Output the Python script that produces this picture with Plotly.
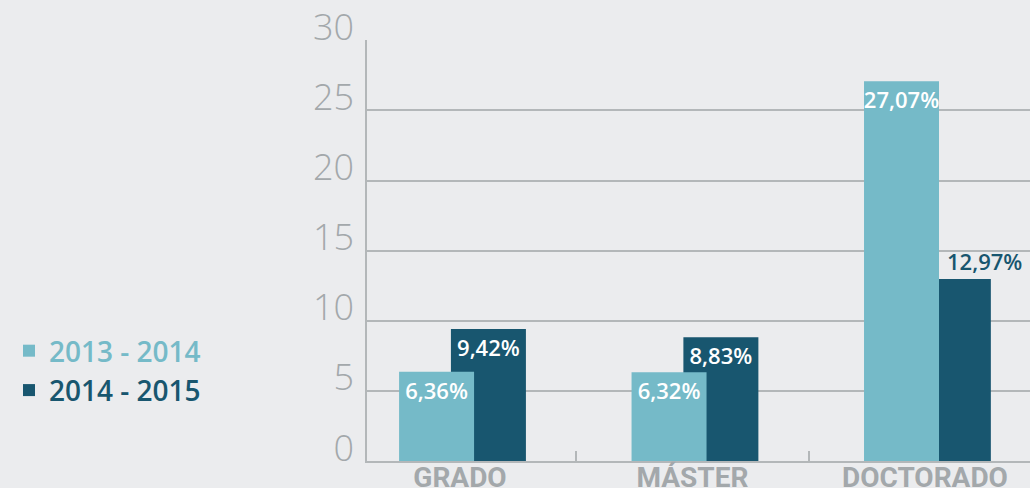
import plotly.graph_objects as go

categories = ["GRADO", "MÁSTER", "DOCTORADO"]
series_names = ["2013 - 2014", "2014 - 2015"]
values_2013 = [6.36, 6.32, 27.07]
values_2014 = [9.42, 8.83, 12.97]
y_ticks = [0, 5, 10, 15, 20, 25, 30]

LIGHT = "#75bac8"
DARK = "#18566f"
BG = "#ebecee"
GRID = "#b3b7b9"
TICK = "#a3a8ab"

def fmt(v):
    return f"{v:.2f}".replace(".", ",") + "%"

fig = go.Figure()

# dark series first so the light series is drawn on top (overlap)
dark_text = [fmt(v) for v in values_2014[:2]] + [""]
fig.add_trace(go.Bar(
    x=categories, y=values_2014, name=f"<span style='color:{DARK}'>{series_names[1]}</span>",
    marker=dict(color=DARK, line=dict(width=0)),
    width=0.3226, offset=-0.039,
    text=dark_text, textposition="inside", insidetextanchor="end", textangle=0,
    constraintext="none",
    insidetextfont=dict(family="Open Sans", size=22, color="white", weight=600),
    legendrank=2, hoverinfo="skip",
))
fig.add_trace(go.Bar(
    x=categories, y=values_2013, name=f"<span style='color:{LIGHT}'>{series_names[0]}</span>",
    marker=dict(color=LIGHT, line=dict(width=0)),
    width=0.3226, offset=-0.262,
    text=[fmt(v) for v in values_2013], textposition="inside", insidetextanchor="end", textangle=0,
    constraintext="none",
    insidetextfont=dict(family="Open Sans", size=22, color="white", weight=600),
    legendrank=1, hoverinfo="skip",
))

# outside label for the last dark bar, nudged right to clear the light bar
fig.add_annotation(
    x=categories[2], y=values_2014[2], text=fmt(values_2014[2]),
    showarrow=False, yanchor="bottom", xshift=60, yshift=1,
    font=dict(family="Open Sans", size=22, color=DARK, weight=600),
)

fig.update_layout(
    width=1030, height=488,
    margin=dict(l=367, r=0, t=40, b=27, autoexpand=False),
    paper_bgcolor=BG, plot_bgcolor=BG,
    barmode="overlay",
    showlegend=True,
    legend=dict(
        x=-0.540, xanchor="left", y=0.215, yanchor="middle",
        font=dict(family="Open Sans", size=28, weight=600),
        bgcolor="rgba(0,0,0,0)", itemclick=False, itemdoubleclick=False,
    ),
    xaxis=dict(
        type="category", categoryorder="array", categoryarray=categories,
        range=[-0.4, 2.452], automargin=False,
        showgrid=False, showline=True, linecolor=GRID, linewidth=1.5,
        tickson="boundaries", ticks="inside", ticklen=10, tickcolor=GRID, tickwidth=1.5,
        ticklabelstandoff=-9,
        tickfont=dict(family="Roboto", size=28, color=TICK, weight=700),
        fixedrange=True,
    ),
    yaxis=dict(
        range=[0, 30.02], tickvals=y_ticks, ticktext=[str(t) for t in y_ticks],
        automargin=False,
        showgrid=True, gridcolor=GRID, gridwidth=1.5,
        showline=True, linecolor=GRID, linewidth=1.5,
        zeroline=False, ticks="",
        ticklabelshift=-13, ticklabelstandoff=4,
        tickfont=dict(family="Open Sans", size=36, color=TICK, weight=300),
        fixedrange=True,
    ),
)

fig.write_html(
    "out.html",
    config={"displayModeBar": False},
    post_script="document.body.style.margin='0';document.body.style.overflow='hidden';",
)
